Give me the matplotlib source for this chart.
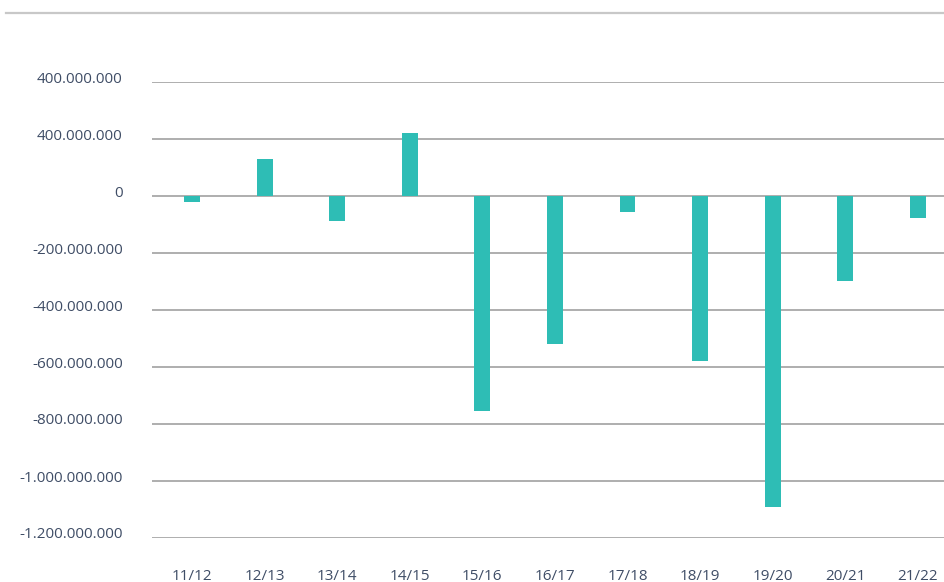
import matplotlib
matplotlib.use("Agg")
import matplotlib.pyplot as plt
from matplotlib.lines import Line2D
from matplotlib.transforms import ScaledTranslation

categories = ["11/12", "12/13", "13/14", "14/15", "15/16", "16/17", "17/18", "18/19", "19/20", "20/21", "21/22"]
values = [-22e6, 129e6, -89e6, 220e6, -754e6, -519e6, -56e6, -579e6, -1091e6, -298e6, -77e6]
ytick_values = [400e6, 200e6, 0, -200e6, -400e6, -600e6, -800e6, -1000e6, -1200e6]
ytick_labels = ["400.000.000", "400.000.000", "0", "-200.000.000", "-400.000.000",
                "-600.000.000", "-800.000.000", "-1.000.000.000", "-1.200.000.000"]

plt.rcParams['font.family'] = ['Open Sans', 'DejaVu Sans']
W, H = 944, 582
fig = plt.figure(figsize=(W/100, H/100), dpi=100)
ax = fig.add_axes([152/W, (H-538)/H, 1 - 152/W, (538-82)/H])

x = list(range(len(categories)))
ax.bar(x, values, width=0.22, color="#2ebdb5", zorder=3)

ax.set_ylim(-1200e6, 400e6)
ax.set_xlim(-0.55, 10.36)
ax.set_yticks(ytick_values)
ax.set_yticklabels(ytick_labels)
ax.set_xticks(x)
ax.set_xticklabels(categories)
ax.tick_params(axis='both', length=0, labelsize=11, colors="#3f4d66")
ax.tick_params(axis='y', pad=21)
ax.tick_params(axis='x', pad=22)
ax.yaxis.grid(True, color="#999999", linewidth=1.1, zorder=0)
for s in ax.spines.values():
    s.set_visible(False)

offset = ScaledTranslation(0, 5/100, fig.dpi_scale_trans)
for lbl in ax.get_yticklabels():
    lbl.set_transform(lbl.get_transform() + offset)

fig.add_artist(Line2D([6/W, 1.0], [(H-13)/H, (H-13)/H], color="#c8c8c8", linewidth=1.6,
                      transform=fig.transFigure))

fig.savefig("out.png", dpi=100)
